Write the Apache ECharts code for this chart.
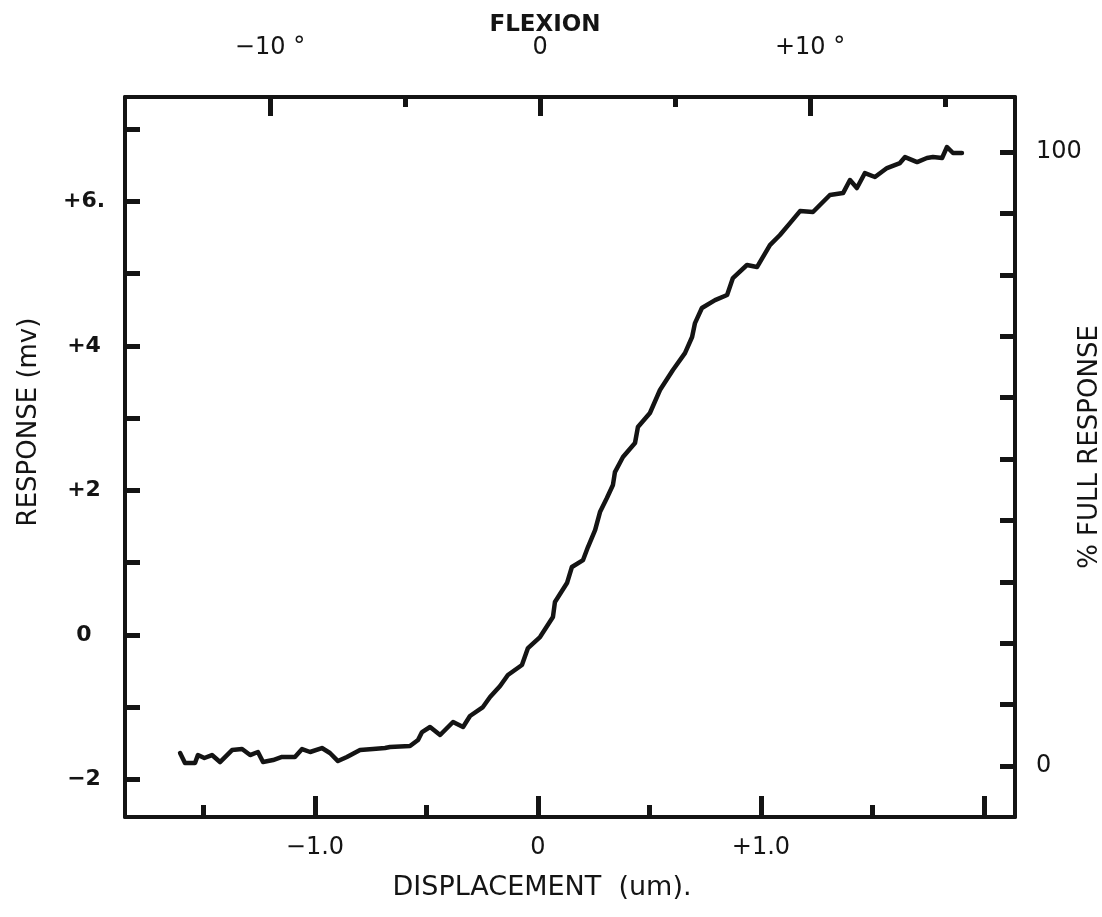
<!DOCTYPE html>
<html>
<head>
<meta charset="utf-8">
<title>Response vs displacement</title>
<script src="https://cdn.jsdelivr.net/npm/echarts@6/dist/echarts.min.js"></script>
<style>
  html, body { margin: 0; padding: 0; background: #fff; }
  #chart { width: 1102px; height: 917px; }
</style>
</head>
<body>
<div id="chart"></div>
<script>
// Recorded trace: displacement (um) and response (mV)
const displacementUm = [
  -1.605, -1.583, -1.538, -1.525, -1.496, -1.462, -1.426, -1.372, -1.327, -1.291,
  -1.256, -1.233, -1.188, -1.148, -1.090, -1.058, -1.022, -0.969, -0.933, -0.897,
  -0.857, -0.798, -0.740, -0.686, -0.664, -0.574, -0.538, -0.520, -0.484, -0.439,
  -0.381, -0.336, -0.305, -0.247, -0.215, -0.170, -0.135, -0.072, -0.045, 0.009,
  0.067, 0.076, 0.130, 0.152, 0.202, 0.224, 0.256, 0.278, 0.309, 0.336,
  0.345, 0.381, 0.435, 0.448, 0.502, 0.547, 0.605, 0.659, 0.691, 0.704,
  0.735, 0.794, 0.848, 0.874, 0.937, 0.982, 1.040, 1.085, 1.130, 1.175,
  1.233, 1.309, 1.368, 1.399, 1.430, 1.466, 1.511, 1.565, 1.623, 1.646,
  1.700, 1.744, 1.771, 1.812, 1.834, 1.861, 1.901
];
const responseMv = [
  -1.632, -1.770, -1.770, -1.660, -1.701, -1.660, -1.757, -1.591, -1.577, -1.660,
  -1.618, -1.757, -1.729, -1.687, -1.687, -1.577, -1.618, -1.563, -1.632, -1.743,
  -1.687, -1.591, -1.577, -1.563, -1.549, -1.535, -1.452, -1.342, -1.272, -1.383,
  -1.203, -1.272, -1.120, -0.996, -0.858, -0.705, -0.553, -0.415, -0.180, -0.028,
  0.249, 0.456, 0.719, 0.941, 1.037, 1.217, 1.452, 1.701, 1.895, 2.075,
  2.254, 2.462, 2.656, 2.877, 3.071, 3.389, 3.665, 3.900, 4.122, 4.315,
  4.523, 4.633, 4.703, 4.938, 5.118, 5.090, 5.394, 5.533, 5.698, 5.864,
  5.851, 6.086, 6.113, 6.293, 6.183, 6.390, 6.335, 6.459, 6.528, 6.611,
  6.542, 6.598, 6.611, 6.598, 6.750, 6.667, 6.667
];

// Axis ranges
const displacementRange = [-1.852, 2.139];
const flexionRange = [-15.37, 17.59];
const responseRange = [-2.517, 7.442];
const percentRange = [-8.31, 108.96];

// Ticks and labels
const displacementMajorTicks = [-1, 0, 1, 2];
const displacementMinorTicks = [-1.5, -0.5, 0.5, 1.5];
const displacementLabelValues = [-1, 0, 1];
const displacementLabels = ['\u22121.0', '0', '+1.0'];

const flexionMajorTicks = [-10, 0, 10];
const flexionMinorTicks = [-5, 5, 15];
const flexionLabelValues = [-10, 0, 10];
const flexionLabels = ['\u221210 \u00b0', '0', '+10 \u00b0'];

const responseTicks = [-2, -1, 0, 1, 2, 3, 4, 5, 6, 7];
const responseLabelValues = [-2, 0, 2, 4, 6];
const responseLabels = ['\u22122', '0', '+2', '+4', '+6.'];

const percentTicks = [0, 10, 20, 30, 40, 50, 60, 70, 80, 90, 100];
const percentLabelValues = [0, 100];
const percentLabels = ['0', '100'];

const INK = '#141414';
const FONT = 'DejaVu Sans';

function labelLookup(values, labels) {
  return function (v) {
    for (let i = 0; i < values.length; i++) {
      if (Math.abs(values[i] - v) < 1e-6) return labels[i];
    }
    return '';
  };
}

const chart = echarts.init(document.getElementById('chart'), null, { renderer: 'canvas' });

const baseLabel = { fontFamily: FONT, fontSize: 24, color: INK };
const tickStyle = { color: INK, width: 5 };
const frameLine = { onZero: false, lineStyle: { color: INK, width: 4 } };
const hiddenLine = { show: false, onZero: false };

const option = {
  backgroundColor: '#ffffff',
  animation: false,
  grid: {
    left: 125, right: 87, top: 97, bottom: 100,
    containLabel: false,
    outerBoundsMode: 'none'
  },
  xAxis: [
    {
      type: 'value', position: 'bottom',
      min: displacementRange[0], max: displacementRange[1],
      name: 'DISPLACEMENT  (um).',
      nameLocation: 'middle', nameGap: 57, nameMoveOverlap: false,
      nameTextStyle: { fontFamily: FONT, fontSize: 27, color: INK, padding: [0, 56, 0, 0] },
      axisLine: { show: true, ...frameLine },
      axisTick: { show: true, inside: true, length: 21, lineStyle: tickStyle, customValues: displacementMajorTicks },
      axisLabel: { ...baseLabel, margin: 19, customValues: displacementLabelValues,
        formatter: labelLookup(displacementLabelValues, displacementLabels) },
      splitLine: { show: false }
    },
    {
      type: 'value', position: 'bottom',
      min: displacementRange[0], max: displacementRange[1],
      axisLine: hiddenLine,
      axisTick: { show: true, inside: true, length: 12, lineStyle: tickStyle, customValues: displacementMinorTicks },
      axisLabel: { show: false },
      splitLine: { show: false }
    },
    {
      type: 'value', position: 'top',
      min: flexionRange[0], max: flexionRange[1],
      name: 'FLEXION',
      nameLocation: 'middle', nameGap: 60, nameMoveOverlap: false,
      nameTextStyle: { fontFamily: FONT, fontSize: 23, fontWeight: 'bold', color: INK, padding: [0, 50, 0, 0] },
      axisLine: { show: true, ...frameLine },
      axisTick: { show: true, inside: true, length: 19, lineStyle: tickStyle, customValues: flexionMajorTicks },
      axisLabel: { ...baseLabel, margin: 37, customValues: flexionLabelValues,
        formatter: labelLookup(flexionLabelValues, flexionLabels) },
      splitLine: { show: false }
    },
    {
      type: 'value', position: 'top',
      min: flexionRange[0], max: flexionRange[1],
      axisLine: hiddenLine,
      axisTick: { show: true, inside: true, length: 10, lineStyle: tickStyle, customValues: flexionMinorTicks },
      axisLabel: { show: false },
      splitLine: { show: false }
    }
  ],
  yAxis: [
    {
      type: 'value', position: 'left',
      min: responseRange[0], max: responseRange[1],
      name: 'RESPONSE (mv)',
      nameLocation: 'middle', nameGap: 83, nameRotate: 90, nameMoveOverlap: false,
      nameTextStyle: { fontFamily: FONT, fontSize: 26, color: INK, padding: [0, 0, 0, 70] },
      axisLine: { show: true, ...frameLine },
      axisTick: { show: true, inside: true, length: 15, lineStyle: tickStyle, customValues: responseTicks },
      axisLabel: { ...baseLabel, fontSize: 22, fontWeight: 'bold', margin: 41, align: 'center', customValues: responseLabelValues,
        formatter: labelLookup(responseLabelValues, responseLabels) },
      splitLine: { show: false }
    },
    {
      type: 'value', position: 'right',
      min: percentRange[0], max: percentRange[1],
      name: '% FULL RESPONSE',
      nameLocation: 'middle', nameGap: 62, nameRotate: 90, nameMoveOverlap: false,
      nameTextStyle: { fontFamily: FONT, fontSize: 26, color: INK, padding: [0, 0, 0, 20] },
      axisLine: { show: true, ...frameLine },
      axisTick: { show: true, inside: true, length: 15, lineStyle: tickStyle, customValues: percentTicks },
      axisLabel: { ...baseLabel, margin: 21, align: 'left', customValues: percentLabelValues,
        formatter: labelLookup(percentLabelValues, percentLabels) },
      splitLine: { show: false }
    }
  ],
  series: [
    {
      type: 'line',
      xAxisIndex: 0, yAxisIndex: 0,
      data: displacementUm.map((x, i) => [x, responseMv[i]]),
      showSymbol: false,
      symbol: 'none',
      smooth: false,
      lineStyle: { color: INK, width: 4.5, join: 'round', cap: 'round' },
      silent: true
    }
  ]
};

chart.setOption(option);
</script>
</body>
</html>
